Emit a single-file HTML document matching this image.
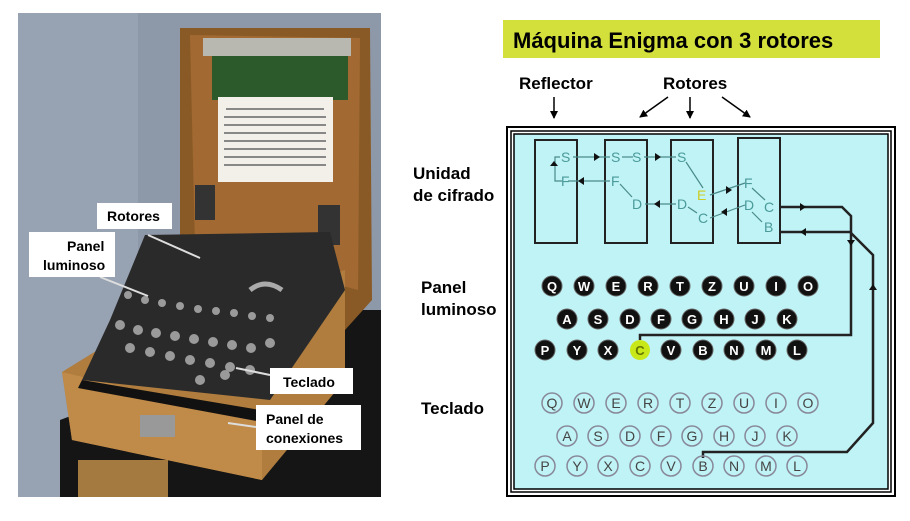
<!DOCTYPE html>
<html><head><meta charset="utf-8"><style>
html,body{margin:0;padding:0;background:#fff;width:910px;height:521px;overflow:hidden}
svg{display:block}
text{font-family:"Liberation Sans",Arial,sans-serif}
</style></head><body>
<svg width="910" height="521" viewBox="0 0 910 521" xmlns="http://www.w3.org/2000/svg">
<defs>
<marker id="ah" markerWidth="8" markerHeight="8" refX="7" refY="4" orient="auto" markerUnits="userSpaceOnUse"><path d="M0,0 L8,4 L0,8 z" fill="#000"/></marker>
</defs>
<!-- PHOTO -->
<rect x="18" y="13" width="363" height="484" fill="#8d98a9"/>
<rect x="18" y="13" width="120" height="484" fill="#97a2b3"/>
<!-- stand -->
<polygon points="60,420 350,310 381,310 381,497 60,497" fill="#151515"/>
<rect x="78" y="460" width="90" height="37" fill="#a47a40"/>
<!-- lid -->
<polygon points="180,28 370,28 372,300 345,330 180,260" fill="#8a5a26"/>
<polygon points="190,35 360,38 358,290 195,245" fill="#a26a32"/>
<rect x="203" y="38" width="148" height="18" fill="#b8b8b0"/>
<rect x="212" y="56" width="136" height="44" fill="#2c5a2a"/>
<rect x="218" y="97" width="115" height="85" fill="#f2f0e8"/>
<g fill="#888"><rect x="226" y="108" width="98" height="2"/><rect x="224" y="116" width="102" height="2"/><rect x="224" y="124" width="102" height="2"/><rect x="224" y="132" width="102" height="2"/><rect x="224" y="140" width="102" height="2"/><rect x="224" y="148" width="102" height="2"/><rect x="224" y="156" width="102" height="2"/><rect x="224" y="164" width="102" height="2"/></g>
<rect x="195" y="185" width="20" height="35" fill="#333"/>
<rect x="318" y="205" width="22" height="40" fill="#333"/>
<!-- box body -->
<polygon points="62,372 130,330 345,270 345,380 262,480 72,440" fill="#b07d3e"/>
<polygon points="62,372 262,420 262,480 72,440" fill="#c08a48"/>
<!-- black top -->
<polygon points="145,235 330,232 345,290 270,400 82,380 110,320" fill="#2a2a2a"/>
<polygon points="82,380 260,410 262,422 78,388" fill="#111"/>
<g fill="#9a9a9a">
<circle cx="128" cy="295" r="4"/><circle cx="145" cy="300" r="4"/><circle cx="162" cy="303" r="4"/><circle cx="180" cy="306" r="4"/><circle cx="198" cy="309" r="4"/><circle cx="216" cy="311" r="4"/><circle cx="234" cy="313" r="4"/><circle cx="252" cy="316" r="4"/><circle cx="270" cy="318" r="4"/>
<circle cx="120" cy="325" r="5"/><circle cx="138" cy="330" r="5"/><circle cx="156" cy="333" r="5"/><circle cx="175" cy="336" r="5"/><circle cx="194" cy="339" r="5"/><circle cx="213" cy="342" r="5"/><circle cx="232" cy="345" r="5"/><circle cx="251" cy="348" r="5"/><circle cx="270" cy="343" r="5"/>
<circle cx="130" cy="348" r="5"/><circle cx="150" cy="352" r="5"/><circle cx="170" cy="356" r="5"/><circle cx="190" cy="360" r="5"/><circle cx="210" cy="363" r="5"/><circle cx="230" cy="367" r="5"/><circle cx="250" cy="370" r="5"/><circle cx="200" cy="380" r="5"/><circle cx="225" cy="375" r="5"/>
</g>
<path d="M250,290 q15,-12 32,0" stroke="#aaa" stroke-width="5" fill="none"/>
<rect x="140" y="415" width="35" height="22" fill="#999"/>
<!-- pointer lines -->
<g stroke="#ddd" stroke-width="2"><line x1="148" y1="235" x2="200" y2="258"/><line x1="100" y1="277" x2="148" y2="296"/><line x1="236" y1="368" x2="270" y2="375"/><line x1="228" y1="423" x2="256" y2="427"/></g>
<!-- labels -->
<rect x="97" y="203" width="75" height="26" fill="#fff"/><text x="107" y="221" font-size="14" font-weight="bold">Rotores</text>
<rect x="29" y="232" width="86" height="45" fill="#fff"/><text x="67" y="251" font-size="14" font-weight="bold">Panel</text><text x="43" y="270" font-size="14" font-weight="bold">luminoso</text>
<rect x="270" y="368" width="83" height="26" fill="#fff"/><text x="283" y="387" font-size="14" font-weight="bold">Teclado</text>
<rect x="256" y="405" width="105" height="45" fill="#fff"/><text x="266" y="424" font-size="14" font-weight="bold">Panel de</text><text x="266" y="443" font-size="14" font-weight="bold">conexiones</text>

<!-- RIGHT DIAGRAM -->
<rect x="503" y="20" width="377" height="38" fill="#d3e03c"/>
<text x="513" y="48" font-size="22" font-weight="bold">Máquina Enigma con 3 rotores</text>
<text x="519" y="89" font-size="17" font-weight="bold">Reflector</text>
<text x="663" y="89" font-size="17" font-weight="bold">Rotores</text>
<g stroke="#000" stroke-width="1.5" marker-end="url(#ah)">
<line x1="554" y1="97" x2="554" y2="118"/>
<line x1="668" y1="97" x2="640" y2="117"/>
<line x1="690" y1="97" x2="690" y2="118"/>
<line x1="722" y1="97" x2="750" y2="117"/>
</g>
<text x="413" y="179" font-size="17" font-weight="bold">Unidad</text>
<text x="413" y="201" font-size="17" font-weight="bold">de cifrado</text>
<text x="421" y="293" font-size="17" font-weight="bold">Panel</text>
<text x="421" y="315" font-size="17" font-weight="bold">luminoso</text>
<text x="421" y="414" font-size="17" font-weight="bold">Teclado</text>

<rect x="507" y="127" width="388" height="369" fill="#fff" stroke="#000" stroke-width="2"/>
<rect x="511" y="131" width="380" height="361" fill="#fff" stroke="#000" stroke-width="1.5"/>
<rect x="514" y="134" width="374" height="355" fill="#bff3f6" stroke="#000" stroke-width="1.5"/>

<g fill="none" stroke="#222" stroke-width="2">
<rect x="535" y="140" width="42" height="103"/>
<rect x="605" y="140" width="42" height="103"/>
<rect x="671" y="140" width="42" height="103"/>
<rect x="738" y="138" width="42" height="105"/>
</g>
<g stroke="#4a8a8a" stroke-width="1.2" fill="none">
<path d="M560,157 H555 V181 H562"/>
<line x1="573" y1="157" x2="610" y2="157"/><line x1="622" y1="157" x2="633" y2="157"/><line x1="644" y1="157" x2="676" y2="157"/>
<line x1="568" y1="181" x2="610" y2="181"/>
<line x1="620" y1="184" x2="632" y2="197"/>
<line x1="645" y1="204" x2="676" y2="204"/>
<line x1="686" y1="162" x2="703" y2="188"/>
<line x1="710" y1="195" x2="745" y2="183"/>
<line x1="688" y1="207" x2="697" y2="213"/>
<line x1="710" y1="218" x2="745" y2="205"/>
<line x1="752" y1="188" x2="765" y2="200"/>
<line x1="752" y1="212" x2="762" y2="222"/>
</g>
<g fill="#111">
<path d="M554,161 l-4,5 h8 z"/>
<path d="M594,153 l6,4 l-6,4 z"/><path d="M655,153 l6,4 l-6,4 z"/>
<path d="M584,177 l-6,4 l6,4 z"/><path d="M660,200 l-6,4 l6,4 z"/>
<path d="M726,186 l6,4 l-6,4 z"/><path d="M727,208 l-6,4 l6,4 z"/>
</g>
<g font-size="14" fill="#4a9a9a">
<text x="561" y="162">S</text><text x="561" y="186">F</text>
<text x="611" y="162">S</text><text x="632" y="162">S</text><text x="611" y="186">F</text><text x="632" y="209">D</text>
<text x="677" y="162">S</text><text x="677" y="209">D</text><text x="698" y="223">C</text>
<text x="744" y="188">F</text><text x="744" y="210">D</text><text x="764" y="212">C</text><text x="764" y="232">B</text>
</g>
<text x="697" y="200" font-size="14" fill="#cccc22">E</text>
<!-- thick wires -->
<g stroke="#222" stroke-width="2.5" fill="none">
<path d="M780,207 H842 L851,216 V335 H640 V340"/>
<path d="M780,232 H850 L873,255 V423 L847,452 H703 V458"/>
</g>
<g fill="#111">
<path d="M800,203 l6,4 l-6,4 z"/><path d="M806,228 l-6,4 l6,4 z"/>
<path d="M847,240 l4,6 l4,-6 z"/><path d="M869,290 l4,-6 l4,6 z"/>
</g>
<!-- lamps -->
<g font-size="13" font-weight="bold" text-anchor="middle">
<g fill="#111" stroke="#666" stroke-width="1">
<circle cx="552" cy="286" r="10"/><circle cx="584" cy="286" r="10"/><circle cx="616" cy="286" r="10"/><circle cx="648" cy="286" r="10"/><circle cx="680" cy="286" r="10"/><circle cx="712" cy="286" r="10"/><circle cx="744" cy="286" r="10"/><circle cx="776" cy="286" r="10"/><circle cx="808" cy="286" r="10"/>
<circle cx="567" cy="319" r="10"/><circle cx="598" cy="319" r="10"/><circle cx="630" cy="319" r="10"/><circle cx="661" cy="319" r="10"/><circle cx="692" cy="319" r="10"/><circle cx="724" cy="319" r="10"/><circle cx="755" cy="319" r="10"/><circle cx="787" cy="319" r="10"/>
<circle cx="545" cy="350" r="10"/><circle cx="577" cy="350" r="10"/><circle cx="608" cy="350" r="10"/><circle cx="671" cy="350" r="10"/><circle cx="703" cy="350" r="10"/><circle cx="734" cy="350" r="10"/><circle cx="766" cy="350" r="10"/><circle cx="797" cy="350" r="10"/>
</g>
<circle cx="640" cy="350" r="10" fill="#c8e81a"/>
<g fill="#fff">
<text x="552" y="291">Q</text><text x="584" y="291">W</text><text x="616" y="291">E</text><text x="648" y="291">R</text><text x="680" y="291">T</text><text x="712" y="291">Z</text><text x="744" y="291">U</text><text x="776" y="291">I</text><text x="808" y="291">O</text>
<text x="567" y="324">A</text><text x="598" y="324">S</text><text x="630" y="324">D</text><text x="661" y="324">F</text><text x="692" y="324">G</text><text x="724" y="324">H</text><text x="755" y="324">J</text><text x="787" y="324">K</text>
<text x="545" y="355">P</text><text x="577" y="355">Y</text><text x="608" y="355">X</text><text x="671" y="355">V</text><text x="703" y="355">B</text><text x="734" y="355">N</text><text x="766" y="355">M</text><text x="797" y="355">L</text>
</g>
<text x="640" y="355" fill="#667700">C</text>
<!-- keys -->
<g fill="none" stroke="#889" stroke-width="1.5">
<circle cx="552" cy="403" r="10"/><circle cx="584" cy="403" r="10"/><circle cx="616" cy="403" r="10"/><circle cx="648" cy="403" r="10"/><circle cx="680" cy="403" r="10"/><circle cx="712" cy="403" r="10"/><circle cx="744" cy="403" r="10"/><circle cx="776" cy="403" r="10"/><circle cx="808" cy="403" r="10"/>
<circle cx="567" cy="436" r="10"/><circle cx="598" cy="436" r="10"/><circle cx="630" cy="436" r="10"/><circle cx="661" cy="436" r="10"/><circle cx="692" cy="436" r="10"/><circle cx="724" cy="436" r="10"/><circle cx="755" cy="436" r="10"/><circle cx="787" cy="436" r="10"/>
<circle cx="545" cy="466" r="10"/><circle cx="577" cy="466" r="10"/><circle cx="608" cy="466" r="10"/><circle cx="640" cy="466" r="10"/><circle cx="671" cy="466" r="10"/><circle cx="703" cy="466" r="10"/><circle cx="734" cy="466" r="10"/><circle cx="766" cy="466" r="10"/><circle cx="797" cy="466" r="10"/>
</g>
<g fill="#444" font-weight="normal" font-size="14">
<text x="552" y="408">Q</text><text x="584" y="408">W</text><text x="616" y="408">E</text><text x="648" y="408">R</text><text x="680" y="408">T</text><text x="712" y="408">Z</text><text x="744" y="408">U</text><text x="776" y="408">I</text><text x="808" y="408">O</text>
<text x="567" y="441">A</text><text x="598" y="441">S</text><text x="630" y="441">D</text><text x="661" y="441">F</text><text x="692" y="441">G</text><text x="724" y="441">H</text><text x="755" y="441">J</text><text x="787" y="441">K</text>
<text x="545" y="471">P</text><text x="577" y="471">Y</text><text x="608" y="471">X</text><text x="640" y="471">C</text><text x="671" y="471">V</text><text x="703" y="471">B</text><text x="734" y="471">N</text><text x="766" y="471">M</text><text x="797" y="471">L</text>
</g>
</g>
</svg>
</body></html>
